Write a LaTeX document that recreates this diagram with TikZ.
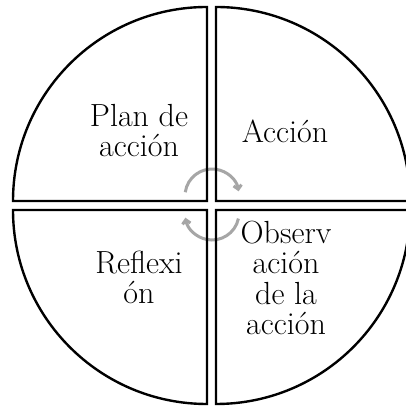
\documentclass[tikz,border=0pt]{standalone}
\usepackage{fontspec}
\setmainfont{Latin Modern Roman}
\usetikzlibrary{arrows.meta}
\begin{document}
\begin{tikzpicture}[x=1pt,y=1pt,
  sector/.style={draw=black,line width=2.4pt,line join=miter},
  lbl/.style={align=center,inner sep=0pt,anchor=base,font=\fontsize{32}{30.6}\selectfont},
  cyc/.style={draw=black!35,line width=3pt,-{Straight Barb[length=4pt,width=8pt]}}]
\useasboundingbox (0,0) rectangle (406,406);
\clip (0,0) rectangle (406,406);
\fill[white] (0,0) rectangle (406,406);
% cycle arrows (behind the sector outlines)
\coordinate (c1) at (212,210);
\coordinate (c2) at (212,193);
\draw[cyc] ([shift={(172:27)}]c1) arc[start angle=172,end angle=10,radius=27];
\draw[cyc] ([shift={(-12:27)}]c2) arc[start angle=-12,end angle=-170,radius=27];
% sectors
\draw[sector] (207,205) -- ++(-194,0) arc[start angle=180,end angle=90,radius=194] -- cycle;
\draw[sector] (216,205) -- ++(0,194) arc[start angle=90,end angle=0,radius=194] -- cycle;
\draw[sector] (216,196) -- ++(194,0) arc[start angle=0,end angle=-90,radius=194] -- cycle;
\draw[sector] (207,196) -- ++(0,-194) arc[start angle=270,end angle=180,radius=194] -- cycle;
% labels
\node[lbl] (plan) at (139,249) {Plan de\\acción};
\node[lbl] (accion) at (285,263) {Acción};
\node[lbl] (refl) at (139,102) {Reflexi\\ón};
\node[lbl] (obs) at (286,71) {Observ\\ación\\de la\\acción};
\end{tikzpicture}
\end{document}
